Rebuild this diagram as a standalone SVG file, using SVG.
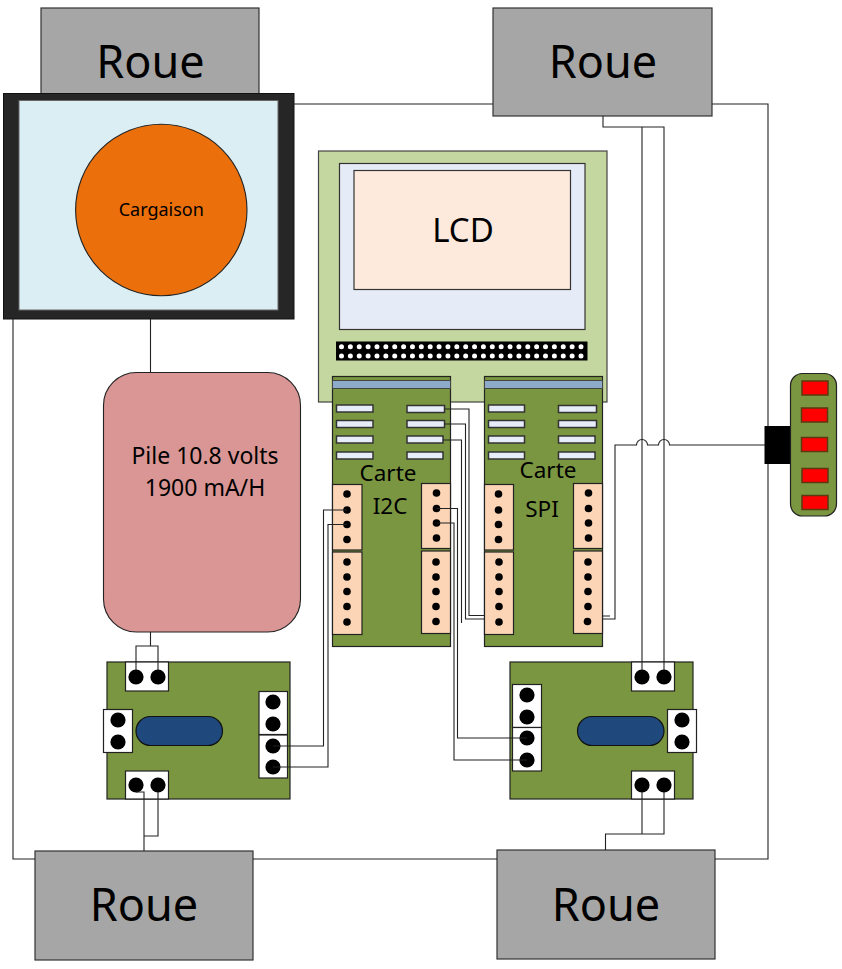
<svg xmlns="http://www.w3.org/2000/svg" width="842" height="969" viewBox="0 0 842 969">
<style>
text{font-family:"Noto Sans","Open Sans","DejaVu Sans",sans-serif;fill:#000;text-anchor:middle}
.roue rect{fill:#a6a6a6;stroke:#333;stroke-width:1.2}
.roue text{font-size:45px}
.w{fill:none;stroke:#222;stroke-width:1.1}
.b{fill:#7a9640;stroke:#222;stroke-width:1.2}
.o{fill:#fbd5b5;stroke:#222;stroke-width:1.2}
.s{fill:#e6edf8;stroke:#333;stroke-width:1.5}
.st{fill:#8eaac9;stroke:#444;stroke-width:1}
.c{fill:#fff;stroke:#222;stroke-width:1.2}
.p{fill:#1f497d;stroke:#111;stroke-width:1.2}
.l{fill:#f00;stroke:#5a3a10;stroke-width:1.5}
.lb{font-size:22.500px}
.pl{font-size:23px}
</style>
<defs>
<g id="d2"><circle cx="0" cy="0" r="7.6"/></g>
<g id="d"><circle cx="0" cy="0" r="3.8"/></g>
</defs>
<g id="roue-hg" class="roue"><rect x="41" y="8" width="218" height="100"/><text x="150.500" y="78">Roue</text></g>
<g id="roue-hd" class="roue"><rect x="493" y="8" width="219" height="108"/><text x="603" y="78">Roue</text></g>
<g id="roue-bg" class="roue"><rect x="35" y="851" width="218" height="109"/><text x="144" y="921">Roue</text></g>
<g id="roue-bd" class="roue"><rect x="497" y="850" width="218" height="109"/><text x="606" y="921">Roue</text></g>
<g id="cadre"><rect x="3.500" y="93.500" width="290.500" height="225.500" fill="#262626" stroke="#111"/><rect x="19" y="100.500" width="259" height="209.500" fill="#daeef3" stroke="#666"/><circle cx="161.300" cy="210" r="85.700" fill="#eb700c" stroke="#222" stroke-width="1.100"/><text x="161.300" y="216" style="font-size:18px">Cargaison</text></g>
<g id="pile"><rect x="103.500" y="372.500" width="197" height="259.500" rx="33" fill="#d99694" stroke="#222" stroke-width="1.100"/><text class="pl" x="205" y="464">Pile 10.8 volts</text><text class="pl" x="205" y="496">1900 mA/H</text></g>
<g id="lcd"><rect x="318.500" y="151" width="288.500" height="251" fill="#c5d7a0" stroke="#444" stroke-width="1.200"/><rect x="339.500" y="163.500" width="245.500" height="166" fill="#e6ecf7" stroke="#333" stroke-width="1.200"/><rect x="354" y="170.500" width="216.500" height="119" fill="#fdeadc" stroke="#333" stroke-width="1.200"/><text x="463" y="242" style="font-size:33px">LCD</text><rect x="336" y="341.500" width="251.500" height="19" fill="#000"/><path d="M341.500 346.700H586M341.500 356H586" stroke="#fff" stroke-width="5" stroke-linecap="round" stroke-dasharray="0 8.870" fill="none"/></g>
<g id="carte-i2c"><rect class="b" x="332.500" y="376.500" width="118" height="270"/><rect class="st" x="332.500" y="380.500" width="118" height="8"/>
<rect class="s" x="336.500" y="405" width="36.500" height="7"/><rect class="s" x="336.500" y="420.500" width="36.500" height="7"/><rect class="s" x="336.500" y="436" width="36.500" height="7"/><rect class="s" x="336.500" y="452" width="36.500" height="7"/>
<rect class="s" x="407" y="405.500" width="37.500" height="7"/><rect class="s" x="407" y="420.500" width="37.500" height="7"/><rect class="s" x="407" y="436" width="36" height="7"/><rect class="s" x="407" y="452" width="36" height="7"/>
<rect class="o" x="332.500" y="484.500" width="29.500" height="65.500"/><rect class="o" x="332.500" y="552" width="29.500" height="82.500"/><rect class="o" x="421.500" y="483.500" width="29" height="65"/><rect class="o" x="421.500" y="551" width="29" height="82.500"/>
<use href="#d" x="347" y="494"/><use href="#d" x="347" y="510"/><use href="#d" x="347" y="524.500"/><use href="#d" x="347" y="539.500"/><use href="#d" x="347" y="562"/><use href="#d" x="347" y="577"/><use href="#d" x="347" y="591.500"/><use href="#d" x="347" y="606.500"/><use href="#d" x="347" y="622"/>
<use href="#d" x="436.500" y="493"/><use href="#d" x="436.500" y="508.500"/><use href="#d" x="436.500" y="523"/><use href="#d" x="436.500" y="538"/><use href="#d" x="436" y="562"/><use href="#d" x="436" y="577"/><use href="#d" x="436" y="591.500"/><use href="#d" x="436" y="606.500"/><use href="#d" x="436" y="621.500"/>
<text class="lb" x="388" y="481">Carte</text><text class="lb" x="390" y="514">I2C</text></g>
<g id="carte-spi"><rect class="b" x="484.500" y="376.500" width="118" height="270"/><rect class="st" x="484.500" y="380.500" width="118" height="8"/>
<rect class="s" x="488.500" y="405" width="36" height="7"/><rect class="s" x="488.500" y="420.500" width="36" height="7"/><rect class="s" x="488.500" y="436" width="36" height="7"/><rect class="s" x="488.500" y="452" width="36" height="7"/>
<rect class="s" x="558.500" y="405.500" width="38" height="7"/><rect class="s" x="558.500" y="420.500" width="38" height="7"/><rect class="s" x="558.500" y="436" width="36.500" height="7"/><rect class="s" x="558.500" y="452" width="36.500" height="7"/>
<rect class="o" x="484.500" y="484.500" width="29" height="65.500"/><rect class="o" x="484.500" y="552" width="29" height="82.500"/><rect class="o" x="573.500" y="483.500" width="29" height="65"/><rect class="o" x="573.500" y="551" width="29" height="82.500"/>
<use href="#d" x="498.500" y="494"/><use href="#d" x="498.500" y="510"/><use href="#d" x="498.500" y="524.500"/><use href="#d" x="498.500" y="539.500"/><use href="#d" x="499" y="562"/><use href="#d" x="499" y="577"/><use href="#d" x="499" y="591.500"/><use href="#d" x="499" y="606.500"/><use href="#d" x="499" y="622"/>
<use href="#d" x="588.500" y="493"/><use href="#d" x="588.500" y="508.500"/><use href="#d" x="588.500" y="523"/><use href="#d" x="588.500" y="538"/><use href="#d" x="588" y="562"/><use href="#d" x="588" y="577"/><use href="#d" x="588" y="591.500"/><use href="#d" x="588" y="606.500"/><use href="#d" x="587.500" y="621.500"/>
<text class="lb" x="548" y="478">Carte</text><text class="lb" x="542" y="517">SPI</text></g>
<g id="driver-g"><rect class="b" x="107" y="662" width="183" height="137"/>
<rect class="c" x="125.500" y="662" width="43" height="29"/><rect class="c" x="103.500" y="709.500" width="29" height="43"/><rect class="c" x="259" y="691.500" width="28.500" height="43"/><rect class="c" x="259" y="735" width="28.500" height="43"/><rect class="c" x="125.500" y="771" width="43" height="28"/>
<rect class="p" x="136" y="716.500" width="86.500" height="29" rx="14.500"/>
<use href="#d2" x="136" y="677"/><use href="#d2" x="158" y="677"/><use href="#d2" x="118" y="720"/><use href="#d2" x="118" y="742"/><use href="#d2" x="273" y="702"/><use href="#d2" x="273" y="724"/><use href="#d2" x="273" y="746"/><use href="#d2" x="273" y="767"/><use href="#d2" x="136" y="785"/><use href="#d2" x="158" y="785"/></g>
<g id="driver-d"><rect class="b" x="510" y="662" width="183" height="137"/>
<rect class="c" x="631.500" y="662" width="43" height="29"/><rect class="c" x="667.500" y="709.500" width="29" height="43"/><rect class="c" x="512.500" y="684.500" width="29" height="43"/><rect class="c" x="512.500" y="727.500" width="29" height="43.500"/><rect class="c" x="631.500" y="771" width="43" height="28"/>
<rect class="p" x="577.500" y="716.500" width="86.500" height="29" rx="14.500"/>
<use href="#d2" x="642" y="677"/><use href="#d2" x="664" y="677"/><use href="#d2" x="682" y="720"/><use href="#d2" x="682" y="742"/><use href="#d2" x="527" y="695"/><use href="#d2" x="527" y="717"/><use href="#d2" x="527" y="738"/><use href="#d2" x="527" y="760"/><use href="#d2" x="642" y="785"/><use href="#d2" x="664" y="785"/></g>
<g id="commande"><rect x="764.500" y="426" width="26.500" height="38" fill="#000"/><rect x="790.500" y="373.500" width="46" height="142.500" rx="12" fill="#7a9640" stroke="#222" stroke-width="1.200"/>
<rect class="l" x="802" y="381" width="26" height="14"/><rect class="l" x="801.500" y="408" width="26" height="14"/><rect class="l" x="801.500" y="437.500" width="26" height="14"/><rect class="l" x="802" y="468.500" width="26" height="14"/><rect class="l" x="802" y="495.500" width="26" height="14"/></g>
<g id="connecteurs" class="w">
<path d="M294 104H493M712 104H768V426M768 464V859H715M13 319V859H35M253 859H497"/>
<path d="M603 116V127H664V670M642 127V670"/>
<path d="M150.500 319V372M150.500 632V646M136 670V646H158V670"/>
<path d="M144 851V792H136M144 836H158V792"/>
<path d="M605.500 850V834H664V792M642 834V792"/>
<path d="M273 746H323.500V510H347M273 767H328V524.500H347"/>
<path d="M527 738H457.500V508.500H436.500M527 760H454V523H436.500"/>
<path d="M444.500 409H469V615.500H484.500M444.500 424H465.500V619H484.500M443 440H461.500V623"/>
<path d="M603 616H610M603 619H615V445H636.500a5.500 5.500 0 0 1 11 0H658.500a5.500 5.500 0 0 1 11 0H765"/>
</g>
</svg>
